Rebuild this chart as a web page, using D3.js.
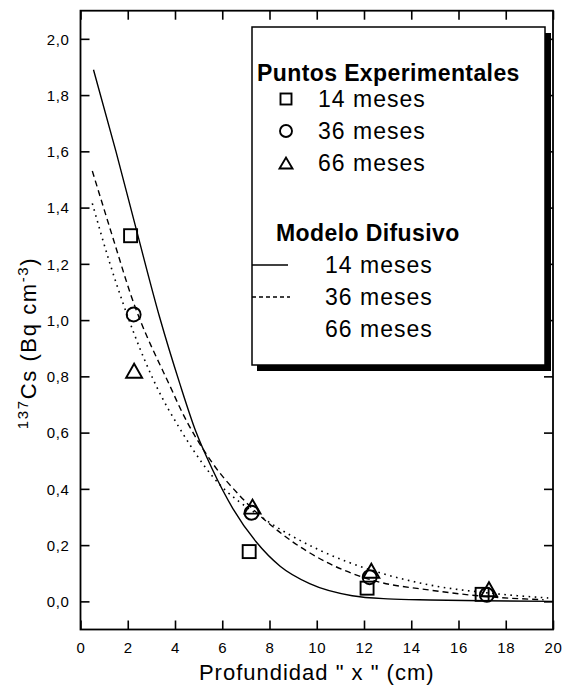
<!DOCTYPE html>
<html><head><meta charset="utf-8">
<script src="https://cdn.jsdelivr.net/npm/d3@7/dist/d3.min.js"></script>
<style>
body{margin:0;background:#fff}
text{font-family:"Liberation Sans",Arial,sans-serif;fill:#000}
</style>
</head><body>
<svg id="chart" width="563" height="691"></svg>
<script>
// ---- data ----
const xTicks = [0,2,4,6,8,10,12,14,16,18,20];
const xTickLabels = ["0","2","4","6","8","10","12","14","16","18","20"];
const yTicks = [0,0.2,0.4,0.6,0.8,1.0,1.2,1.4,1.6,1.8,2.0];
const yTickLabels = ["0,0","0,2","0,4","0,6","0,8","1,0","1,2","1,4","1,6","1,8","2,0"];

const exp14 = [[2.12,1.30],[7.14,0.177],[12.13,0.047],[17.0,0.025]];
const exp36 = [[2.25,1.02],[7.24,0.315],[12.24,0.086],[17.2,0.023]];
const exp66 = [[2.27,0.82],[7.28,0.337],[12.31,0.109],[17.29,0.043]];

const model14 = [[0.55,1.89],[1.5,1.60],[2.4,1.31],[3.35,1.01],[4.2,0.775],[4.9,0.60],[5.55,0.475],[6.45,0.33],[7.45,0.21],[8.45,0.125],[9.7,0.063],[11.5,0.02],[13.0,0.009],[14.8,0.005],[17.0,0.002],[20.0,0.0]];
const model36 = [[0.5,1.53],[1.4,1.285],[2.15,1.085],[3.9,0.745],[4.2,0.69],[5.6,0.49],[6.75,0.375],[8.6,0.235],[10.4,0.14],[12.5,0.072],[14.8,0.04],[17.5,0.015],[19.6,0.006]];
const model66 = [[0.5,1.415],[1.25,1.2],[1.8,1.06],[3.7,0.686],[3.9,0.657],[5.6,0.443],[7.85,0.289],[10.1,0.183],[12.5,0.106],[14.8,0.058],[17.5,0.028],[19.8,0.012]];

const expLabels = ["14 meses","36 meses","66 meses"];
const modelLabels = ["14 meses","36 meses","66 meses"];
const legendTitleExp = "Puntos Experimentales";
const legendTitleModel = "Modelo Difusivo";
const xTitle = "Profundidad \" x \" (cm)";

// ---- chart ----
const svg = d3.select("#chart");
const L = 80.5, R = 553, T = 10.7, B = 629.5;
const x = d3.scaleLinear().domain([0,20]).range([L,R]);
const y = d3.scaleLinear().domain([-0.1,2.1]).range([B,T]);

svg.append("rect").attr("width",563).attr("height",691).attr("fill","#fff");

// axes
const gB = svg.append("g").attr("transform",`translate(0,${B})`)
  .call(d3.axisBottom(x).tickValues(xTicks).tickFormat((d,i)=>xTickLabels[i]).tickSizeInner(-9).tickSizeOuter(0).tickPadding(13));
const gL = svg.append("g").attr("transform",`translate(${L},0)`)
  .call(d3.axisLeft(y).tickValues(yTicks).tickFormat((d,i)=>yTickLabels[i]).tickSizeInner(-9).tickSizeOuter(0).tickPadding(11));
const gT = svg.append("g").attr("transform",`translate(0,${T})`)
  .call(d3.axisTop(x).tickValues(xTicks).tickFormat("").tickSizeInner(-9).tickSizeOuter(0));
const gR = svg.append("g").attr("transform",`translate(${R},0)`)
  .call(d3.axisRight(y).tickValues(yTicks).tickFormat("").tickSizeInner(-9).tickSizeOuter(0));
[gB,gL,gT,gR].forEach(g=>{
  g.select(".domain").remove();
  g.selectAll(".tick line").attr("stroke","#000").attr("stroke-width",1.6);
  g.selectAll(".tick text").attr("font-size",15).attr("letter-spacing","0.6px").attr("font-family","'Liberation Sans',Arial,sans-serif");
});
gL.selectAll(".tick text").attr("dy","0.35em");

svg.append("rect").attr("x",L).attr("y",T).attr("width",R-L).attr("height",B-T)
  .attr("fill","none").attr("stroke","#000").attr("stroke-width",1.8);

// clip
svg.append("clipPath").attr("id","clip").append("rect")
  .attr("x",L).attr("y",T).attr("width",R-L).attr("height",B-T);

const line = d3.line().x(d=>x(d[0])).y(d=>y(d[1])).curve(d3.curveMonotoneX);
const gC = svg.append("g").attr("clip-path","url(#clip)");
gC.append("path").datum(model14).attr("d",line).attr("fill","none").attr("stroke","#000").attr("stroke-width",1.4);
gC.append("path").datum(model36).attr("d",line).attr("fill","none").attr("stroke","#000").attr("stroke-width",1.4).attr("stroke-dasharray","6,4");
gC.append("path").datum(model66).attr("d",line).attr("fill","none").attr("stroke","#000").attr("stroke-width",1.6).attr("stroke-dasharray","1.6,4.5");

// markers
function square(g, cx, cy, s){ g.append("rect").attr("x",cx-s/2).attr("y",cy-s/2).attr("width",s).attr("height",s).attr("fill","none").attr("stroke","#000").attr("stroke-width",1.9); }
function circle(g, cx, cy, r){ g.append("circle").attr("cx",cx).attr("cy",cy).attr("r",r).attr("fill","none").attr("stroke","#000").attr("stroke-width",1.9); }
function tri(g, cx, cy, w, h){ g.append("path").attr("d",`M${cx-w/2},${cy+h/2}L${cx+w/2},${cy+h/2}L${cx},${cy-h/2}Z`).attr("fill","none").attr("stroke","#000").attr("stroke-width",1.9).attr("stroke-linejoin","miter"); }

const gP = svg.append("g");
exp14.forEach(d=>square(gP, x(d[0]), y(d[1]), 13));
exp36.forEach(d=>circle(gP, x(d[0]), y(d[1]), 7));
exp66.forEach(d=>tri(gP, x(d[0]), y(d[1]), 16, 14));

// legend
const lg = svg.append("g");
lg.append("rect").attr("x",257).attr("y",33).attr("width",294).attr("height",338).attr("fill","#000");
lg.append("rect").attr("x",252).attr("y",27).attr("width",293).attr("height",338).attr("fill","#fff").attr("stroke","#000").attr("stroke-width",1.5);

lg.append("text").attr("x",257).attr("y",81).attr("font-size",23).attr("font-weight","bold").attr("letter-spacing","0.4px").text(legendTitleExp);
const rowsE = [107,139,171];
square(lg, 286, rowsE[0]-8, 11);
circle(lg, 286, rowsE[1]-8, 6);
tri(lg, 286, rowsE[2]-8, 13, 11);
expLabels.forEach((t,i)=>lg.append("text").attr("x",318).attr("y",rowsE[i]).attr("font-size",23).attr("letter-spacing","1px").text(t));

lg.append("text").attr("x",276).attr("y",241).attr("font-size",23).attr("font-weight","bold").attr("letter-spacing","0.4px").text(legendTitleModel);
const rowsM = [273,305,337];
lg.append("line").attr("x1",252).attr("x2",288).attr("y1",rowsM[0]-8).attr("y2",rowsM[0]-8).attr("stroke","#000").attr("stroke-width",1.4);
lg.append("line").attr("x1",252).attr("x2",290).attr("y1",rowsM[1]-8).attr("y2",rowsM[1]-8).attr("stroke","#000").attr("stroke-width",1.4).attr("stroke-dasharray","4,3");
modelLabels.forEach((t,i)=>lg.append("text").attr("x",325).attr("y",rowsM[i]).attr("font-size",23).attr("letter-spacing","1px").text(t));

// axis titles
svg.append("text").attr("x",(L+R)/2).attr("y",680).attr("text-anchor","middle")
  .attr("font-size",22).attr("letter-spacing","1px").text(xTitle);

const yt = svg.append("text").attr("transform","translate(36,343) rotate(-90)").attr("text-anchor","middle")
  .attr("font-size",22).attr("letter-spacing","1.6px");
yt.append("tspan").attr("font-size",15).attr("dy","-8").text("137");
yt.append("tspan").attr("dy","8").text("Cs (Bq cm");
yt.append("tspan").attr("font-size",15).attr("dy","-8").text("-3");
yt.append("tspan").attr("dy","8").text(")");
</script>
</body></html>
